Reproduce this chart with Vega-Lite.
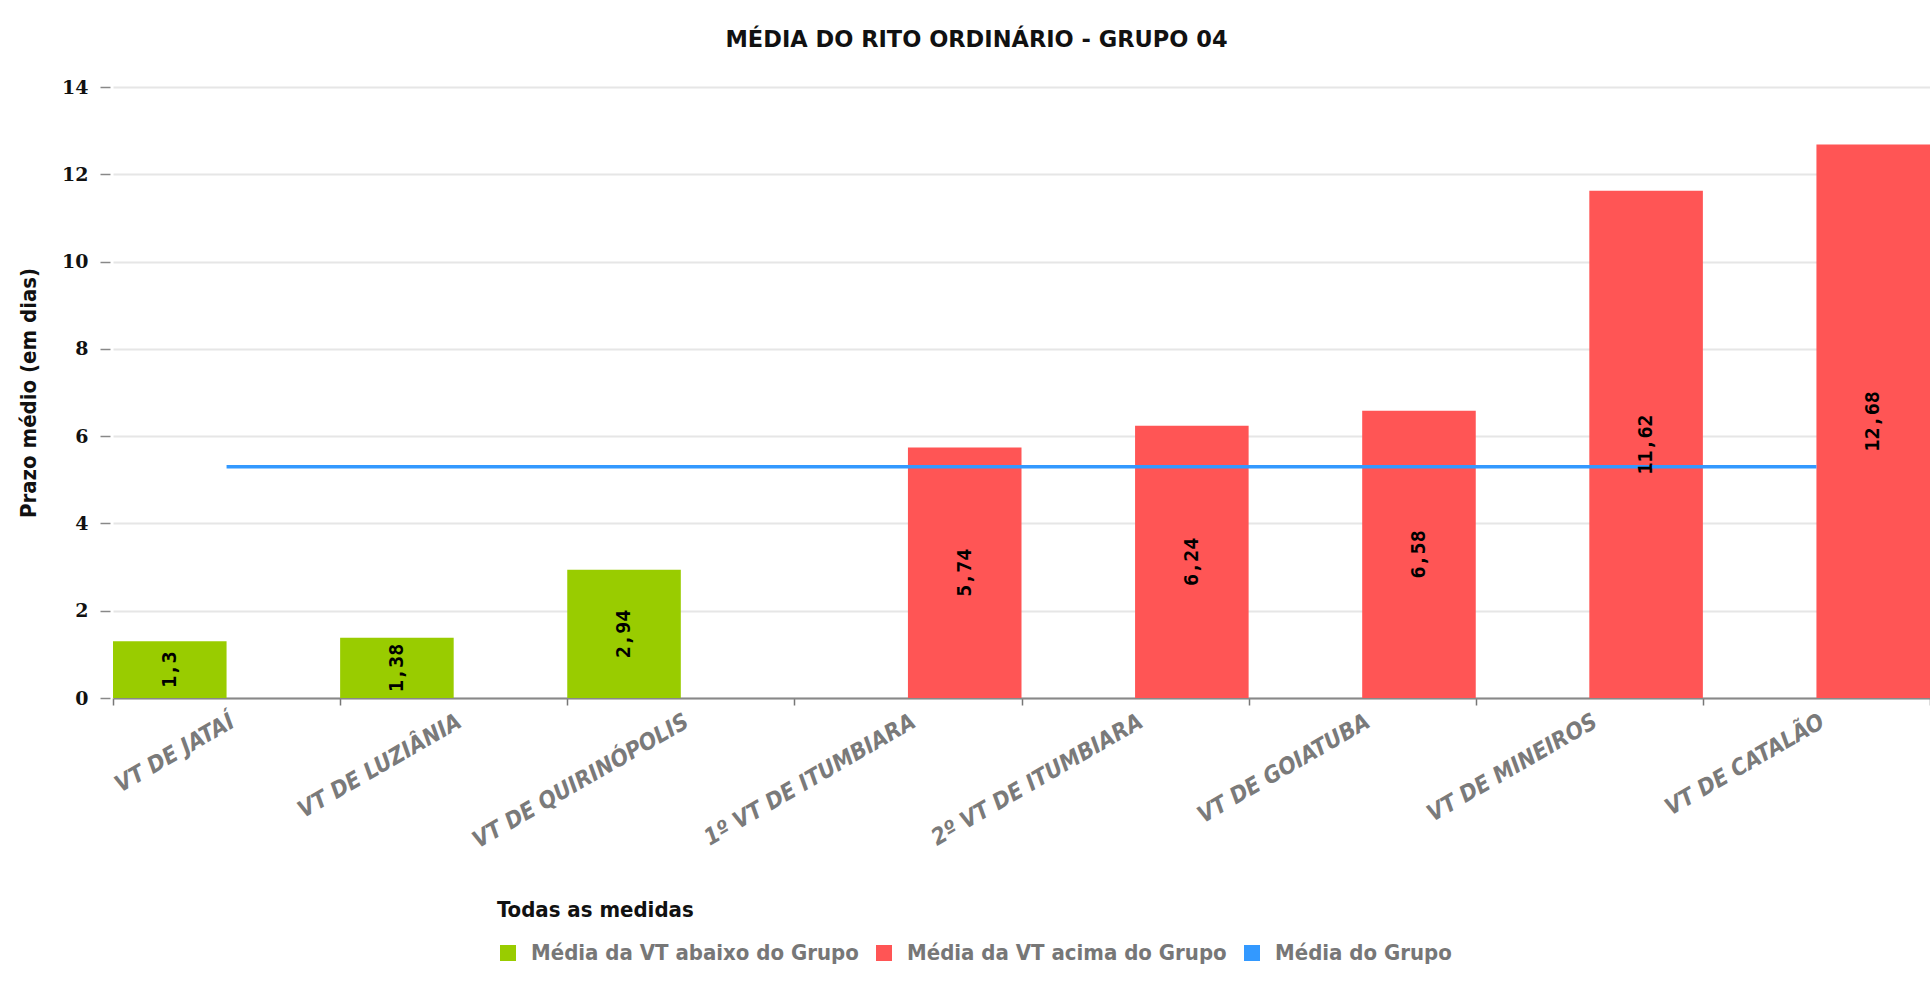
{
  "$schema": "https://vega.github.io/schema/vega-lite/v6.json",
  "autosize": {"type": "none"},
  "width": 1817,
  "height": 611,
  "padding": {"left": 113, "top": 87, "right": 0, "bottom": 292},
  "background": "white",
  "title": {
    "text": "MÉDIA DO RITO ORDINÁRIO - GRUPO 04",
    "font": "DejaVu Sans",
    "fontSize": 22.5,
    "fontWeight": "bold",
    "color": "#111111",
    "anchor": "middle",
    "frame": "group",
    "dx": -45,
    "offset": 27
  },
  "data": {
    "values": [
      {"vara": "VT DE JATAÍ", "prazo": 1.3, "rotulo": "1,3", "serie": "Média da VT abaixo do Grupo", "media": 5.3},
      {"vara": "VT DE LUZIÂNIA", "prazo": 1.38, "rotulo": "1,38", "serie": "Média da VT abaixo do Grupo", "media": 5.3},
      {"vara": "VT DE QUIRINÓPOLIS", "prazo": 2.94, "rotulo": "2,94", "serie": "Média da VT abaixo do Grupo", "media": 5.3},
      {"vara": "1º VT DE ITUMBIARA", "prazo": 5.74, "rotulo": "5,74", "serie": "Média da VT acima do Grupo", "media": 5.3},
      {"vara": "2º VT DE ITUMBIARA", "prazo": 6.24, "rotulo": "6,24", "serie": "Média da VT acima do Grupo", "media": 5.3},
      {"vara": "VT DE GOIATUBA", "prazo": 6.58, "rotulo": "6,58", "serie": "Média da VT acima do Grupo", "media": 5.3},
      {"vara": "VT DE MINEIROS", "prazo": 11.62, "rotulo": "11,62", "serie": "Média da VT acima do Grupo", "media": 5.3},
      {"vara": "VT DE CATALÃO", "prazo": 12.68, "rotulo": "12,68", "serie": "Média da VT acima do Grupo", "media": 5.3}
    ]
  },
  "encoding": {
    "x": {
      "field": "vara",
      "type": "nominal",
      "sort": null,
      "scale": {"paddingInner": 0, "paddingOuter": 0},
      "axis": {
        "title": null,
        "labelAngle": -30,
        "labelFont": "DejaVu Sans Condensed",
        "labelFontStyle": "italic",
        "labelFontWeight": "bold",
        "labelFontSize": 23,
        "labelColor": "#7a7a7a",
        "labelPadding": 5,
        "labelLimit": 0,
        "tickBand": "extent",
        "tickSize": 7,
        "tickColor": "#777777",
        "tickWidth": 1.5,
        "domainColor": "#888888",
        "domainWidth": 2,
        "grid": false
      }
    }
  },
  "layer": [
    {
      "mark": {"type": "bar"},
      "encoding": {
        "xOffset": {"field": "serie", "type": "nominal", "scale": {"domain": ["Média da VT abaixo do Grupo", "Média da VT acima do Grupo"], "paddingInner": 0, "paddingOuter": 0}},
        "y": {
          "field": "prazo",
          "type": "quantitative",
          "scale": {"domain": [0, 14]},
          "axis": {
            "title": "Prazo médio (em dias)",
            "titleFont": "DejaVu Sans Condensed",
            "titleFontSize": 22,
            "titleFontWeight": "bold",
            "titleColor": "#111111",
            "titlePadding": 21,
            "values": [0, 2, 4, 6, 8, 10, 12, 14],
            "labelFont": "DejaVu Serif",
            "labelFontWeight": "bold",
            "labelFontSize": 19,
            "labelColor": "#111111",
            "labelPadding": 12,
            "tickSize": 10,
            "tickColor": "#888888",
            "tickWidth": 1.5,
            "offset": 3,
            "domain": false,
            "grid": true,
            "gridColor": "#e6e6e6",
            "gridWidth": 2
          }
        },
        "color": {
          "field": "serie",
          "type": "nominal",
          "scale": {
            "domain": ["Média da VT abaixo do Grupo", "Média da VT acima do Grupo", "Média do Grupo"],
            "range": ["#99cc00", "#ff5555", "#3399ff"]
          },
          "legend": {
            "title": "Todas as medidas",
            "orient": "none",
            "legendX": 384,
            "legendY": 813,
            "direction": "horizontal",
            "titleFont": "DejaVu Sans Condensed",
            "titleFontSize": 22,
            "titleFontWeight": "bold",
            "titleColor": "#111111",
            "titlePadding": 20,
            "titleLimit": 0,
            "labelFont": "DejaVu Sans Condensed",
            "labelFontSize": 22,
            "labelFontWeight": "bold",
            "labelColor": "#777777",
            "labelLimit": 0,
            "symbolType": "square",
            "symbolSize": 256,
            "symbolStrokeWidth": 0,
            "labelOffset": 12,
            "columnPadding": 14
          }
        }
      }
    },
    {
      "mark": {"type": "line", "color": "#3399ff", "strokeWidth": 3.5},
      "encoding": {
        "y": {"field": "media", "type": "quantitative"},
        "color": {"datum": "Média do Grupo"}
      }
    },
    {
      "transform": [{"calculate": "datum.prazo / 2", "as": "meio"}],
      "mark": {"type": "text", "angle": 270, "font": "DejaVu Sans Mono", "fontWeight": "bold", "fontSize": 20, "color": "black", "baseline": "middle", "align": "center"},
      "encoding": {
        "xOffset": {"field": "serie", "type": "nominal", "scale": {"domain": ["Média da VT abaixo do Grupo", "Média da VT acima do Grupo"], "paddingInner": 0, "paddingOuter": 0}},
        "y": {"field": "meio", "type": "quantitative"},
        "text": {"field": "rotulo"}
      }
    }
  ],
  "config": {
    "view": {"stroke": null}
  }
}
